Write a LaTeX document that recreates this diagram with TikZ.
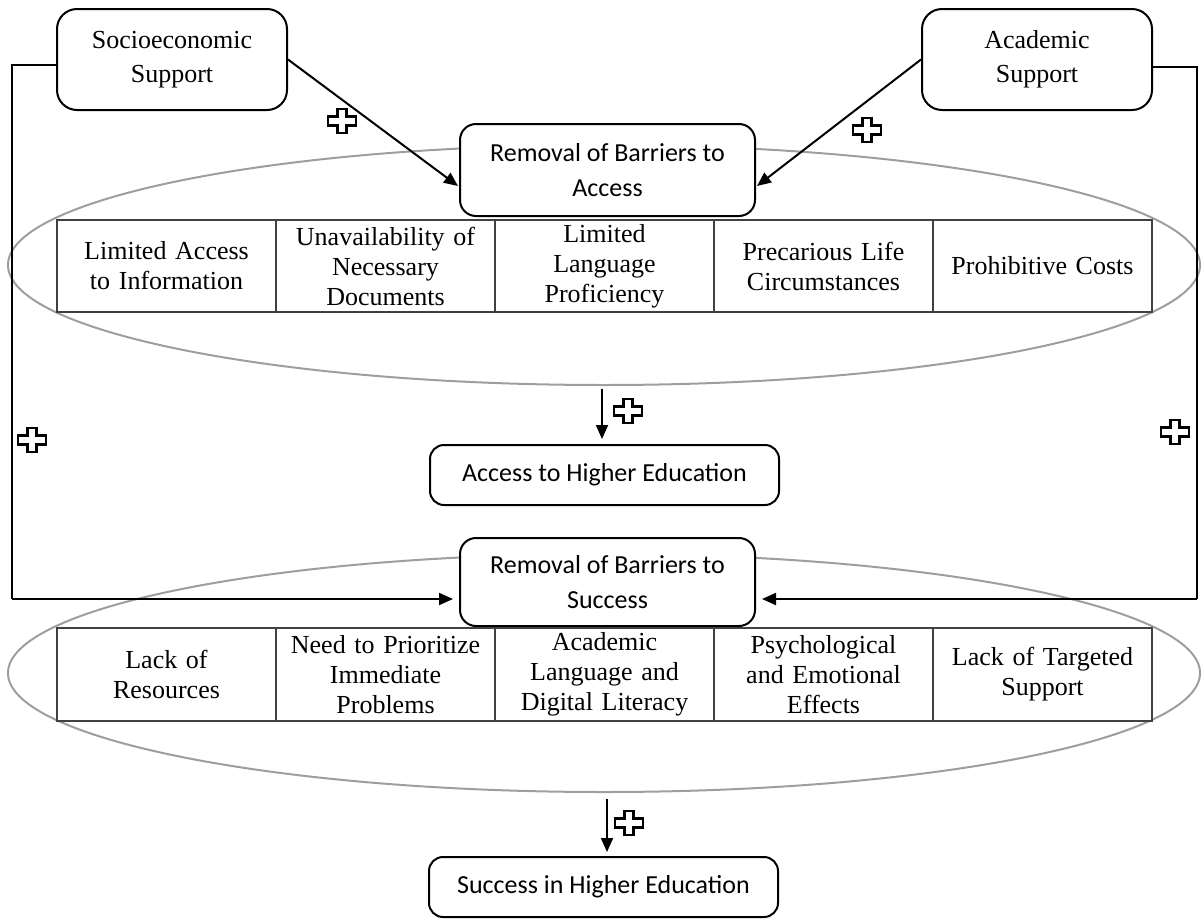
\documentclass[tikz,border=0pt]{standalone}
\usepackage{fontspec}
\setmainfont{Liberation Serif}
\newfontfamily\calfont{Carlito}
\usetikzlibrary{shapes.geometric,arrows.meta}
\begin{document}
\begin{tikzpicture}[x=1pt,y=-1pt,
  rbox/.style={draw=black,line width=2pt,rounded corners=20pt,fill=white,align=center,inner sep=0pt,
    minimum width=230pt,minimum height=101pt,font=\fontsize{26}{34}\selectfont},
  cbox/.style={draw=black,line width=2pt,rounded corners=16pt,fill=white,align=center,inner sep=0pt,
    font=\calfont\fontsize{26}{35}\selectfont},
  cell/.style={draw=black!75,line width=1.5pt,fill=white,minimum width=219pt,minimum height=92pt,
    align=center,text width=215pt,inner sep=0pt,font=\fontsize{26}{30}\selectfont},
  oval/.style={ellipse,draw=black!38,line width=2pt,inner sep=0pt},
  arr/.style={line width=2pt,-{Triangle[length=14pt,width=12pt]}},
  plusmark/.style={draw=black,line width=2.2pt,fill=white,line join=miter}
]
\useasboundingbox (0,0) rectangle (1203,919);

\newcommand\plusat[2]{\draw[plusmark] (#1,#2) ++(-14,-4.5) -- ++(9.5,0) -- ++(0,-7.5) -- ++(9,0) -- ++(0,7.5)
  -- ++(9.5,0) -- ++(0,9) -- ++(-9.5,0) -- ++(0,7.5) -- ++(-9,0) -- ++(0,-7.5) -- ++(-9.5,0) -- cycle;}

% ellipses
\node[oval,minimum width=1192pt,minimum height=240pt] (e1) at (604,265) {};
\node[oval,minimum width=1192pt,minimum height=238pt] (e2) at (604,673) {};

% top boxes
\node[rbox] (soc) at (172,59.5) {Socioeconomic\\Support};
\node[rbox] (acad) at (1037,59.5) {Academic\\Support};

% removal boxes
\node[cbox,minimum width=295pt,minimum height=92pt] (racc) at (607.5,170) {Removal of Barriers to\\Access};
\node[cbox,minimum width=295pt,minimum height=88pt] (rsuc) at (607.5,582) {Removal of Barriers to\\Success};

% outcome boxes
\node[cbox,rounded corners=14pt,minimum width=349pt,minimum height=60pt] (ahe) at (604.5,475) {Access to Higher Education};
\node[cbox,rounded corners=14pt,minimum width=349pt,minimum height=60pt] (she) at (603.5,887) {Success in Higher Education};

% top table
\node[cell] (a1) at (166.5,266) {Limited Access\\to Information};
\node[cell] (a2) at (385.5,266) {Unavailability of\\Necessary\\Documents};
\node[cell] (a3) at (604.5,266) {Limited\\Language\\Proficiency};
\node[cell] (a4) at (823.5,266) {Precarious Life\\Circumstances};
\node[cell] (a5) at (1042.5,266) {Prohibitive Costs};

% bottom table
\node[cell,minimum height=93pt] (b1) at (166.5,674.5) {Lack of\\Resources};
\node[cell,minimum height=93pt] (b2) at (385.5,674.5) {Need to Prioritize\\Immediate\\Problems};
\node[cell,minimum height=93pt] (b3) at (604.5,674.5) {Academic\\Language and\\Digital Literacy};
\node[cell,minimum height=93pt] (b4) at (823.5,674.5) {Psychological\\and Emotional\\Effects};
\node[cell,minimum height=93pt] (b5) at (1042.5,674.5) {Lack of Targeted\\Support};

% connectors
\coordinate (lc) at (12,599);
\coordinate (rc) at (1197,599);
\draw[arr] (soc.east) -- ([xshift=-1pt,yshift=-16pt]racc.west);
\draw[arr] (acad.west) -- ([xshift=1pt,yshift=-16pt]racc.east);
\draw[line width=2pt] ([yshift=-5.5pt]soc.west) -| (lc);
\draw[arr,shorten >=6pt] (lc) -- (lc -| rsuc.west);
\draw[line width=2pt] ([yshift=-7pt]acad.east) -| (rc);
\draw[arr,shorten >=6pt] (rc) -- (rc -| rsuc.east);
\draw[arr] ([xshift=-2pt,yshift=-3pt]e1.south) -- ([xshift=-2.5pt,yshift=5pt]ahe.north);
\draw[arr] ([xshift=3pt,yshift=-6pt]e2.south) -- ([xshift=3.5pt,yshift=4pt]she.north);

% plus signs
\plusat{342}{121}
\plusat{867}{130}
\plusat{628}{411}
\plusat{32}{440}
\plusat{1175}{432}
\plusat{629}{823}
\end{tikzpicture}
\end{document}
